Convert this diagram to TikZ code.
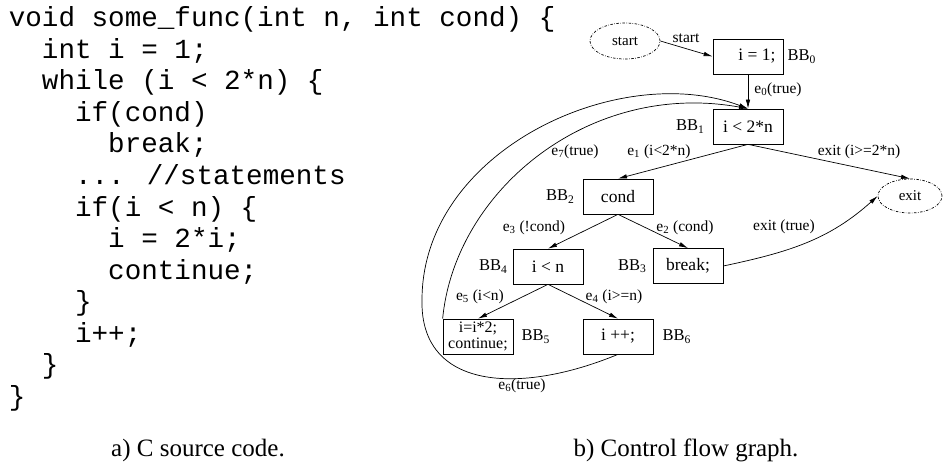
\documentclass[tikz,border=0pt]{standalone}
\usepackage{fontspec}
\setmainfont{Liberation Serif}
\newfontfamily\codefont{Liberation Mono}
\usetikzlibrary{positioning, shapes.geometric, arrows.meta}

\tikzset{
	codeline/.style = {anchor = base west, inner sep = 0pt, font = \codefont\fontsize{27.6}{27.6}\selectfont},
	block/.style = {draw, minimum width = 70pt, minimum height = 35pt, inner sep = 1pt, align = center, font = \fontsize{17.5}{13}\selectfont},
	terminal/.style = {draw, ellipse, dash pattern = on 2.5pt off 1.5pt on 0.6pt off 1.5pt, minimum width = 70pt, minimum height = 36pt, inner sep = 0pt, font = \fontsize{15}{16}\selectfont},
	bblabel/.style = {inner sep = 1pt, font = \fontsize{16.5}{17}\selectfont},
	edgelabel/.style = {inner sep = 0pt, font = \fontsize{15.5}{16}\selectfont},
	caption/.style = {anchor = base, inner sep = 0pt, font = \fontsize{25}{26}\selectfont}
}

\begin{document}
\begin{tikzpicture}[x = 1pt, y = -1pt, > = {Latex[length = 9pt, width = 4.5pt]}, line width = 0.7pt]

	\useasboundingbox (0, 0) rectangle (943, 476);

	% Source code
	
	\foreach \ind/\txt [count = \k from 0] in {0/{void some\_func(int n, int cond) \{}, 2/{int i = 1;}, 2/{while (i < 2*n) \{}, 4/{if(cond)}, 6/{break;}, 4/{... //statements}, 4/{if(i < n) \{}, 6/{i = 2*i;}, 6/{continue;}, 4/{\}}, 4/{i++;}, 2/{\}}, 0/{\}}}
		\node [codeline] (code\k) at ({8.5 + 16.56 * \ind}, {27 + 31.5 * \k}) {\txt};
	
	% Blocks
	
	\node [terminal] (start) at (625, 41) {start};
	\node [block] (bb0) at (748, 56.5) {\hspace*{18pt}i = 1;};
	\node [block] (bb1) at (748, 126.5) {i < 2*n};
	\node [block] (bb2) at (618, 196.5) {cond};
	\node [block] (bb3) at (688, 266) {break;};
	\node [block] (bb4) at (548, 266.5) {i < n};
	\node [block, font = \fontsize{16}{15.5}\selectfont] (bb5) at (478, 336.5) {i=i*2;\\continue;};
	\node [block] (bb6) at (618, 336.5) {i ++;};
	\node [terminal, minimum width = 64pt, minimum height = 34pt] (exit) at (910, 196) {exit};
	
	\node [bblabel, right = 3pt of bb0] (bb0name) {BB\textsubscript{0}};
	\node [bblabel, left = 7pt of bb1] (bb1name) {BB\textsubscript{1}};
	\node [bblabel, left = 7pt of bb2] (bb2name) {BB\textsubscript{2}};
	\node [bblabel, left = 5pt of bb3] (bb3name) {BB\textsubscript{3}};
	\node [bblabel, left = 4pt of bb4] (bb4name) {BB\textsubscript{4}};
	\node [bblabel, right = 7pt of bb5] (bb5name) {BB\textsubscript{5}};
	\node [bblabel, right = 8pt of bb6] (bb6name) {BB\textsubscript{6}};
	
	% Edges
	
	\draw [->] (start.east) -- (bb0.west);
	\draw [->] (bb0) -- (bb1);
	\draw [->] (bb1.south) -- (bb2.north);
	\draw [->] (bb1.south) -- (exit.north);
	\draw [->] (bb2.south) -- (bb4.north);
	\draw [->] (bb2.south) -- (bb3.north);
	\draw [->] (bb3.east) to [out = 12, in = 222] (exit.west);
	\draw [->] (bb4.south) -- (bb5.north);
	\draw [->] (bb4.south) -- (bb6.north);
	
	\coordinate (loopleft) at (422, 300);
	\draw [->] (bb6.south) .. controls (520, 395) and (420, 390) .. (loopleft) .. controls (422, 150) and (620, 60) .. (bb1.north);
	\draw [->] (bb5.north west) .. controls (455, 190) and (590, 80) .. (bb1.north);
	
	% Edge labels
	
	\node [edgelabel] (lstart) at (686, 38) {start};
	\node [edgelabel] (le0) at (778, 90) {e\textsubscript{0}(true)};
	\node [edgelabel] (le1) at (659, 152) {e\textsubscript{1} (i<2*n)};
	\node [edgelabel] (le7) at (575, 152) {e\textsubscript{7}(true)};
	\node [edgelabel] (lexit1) at (859, 152) {exit (i>=2*n)};
	\node [edgelabel] (le3) at (534, 228) {e\textsubscript{3} (!cond)};
	\node [edgelabel] (le2) at (685, 228) {e\textsubscript{2} (cond)};
	\node [edgelabel] (lexit2) at (784, 227) {exit (true)};
	\node [edgelabel] (le5) at (480, 297) {e\textsubscript{5} (i<n)};
	\node [edgelabel] (le4) at (614, 297) {e\textsubscript{4} (i>=n)};
	\node [edgelabel] (le6) at (522, 386) {e\textsubscript{6}(true)};
	
	% Captions
	
	\node [caption] (capa) at (198, 456) {a) C source code.};
	\node [caption] (capb) at (686, 456) {b) Control flow graph.};

\end{tikzpicture}
\end{document}
